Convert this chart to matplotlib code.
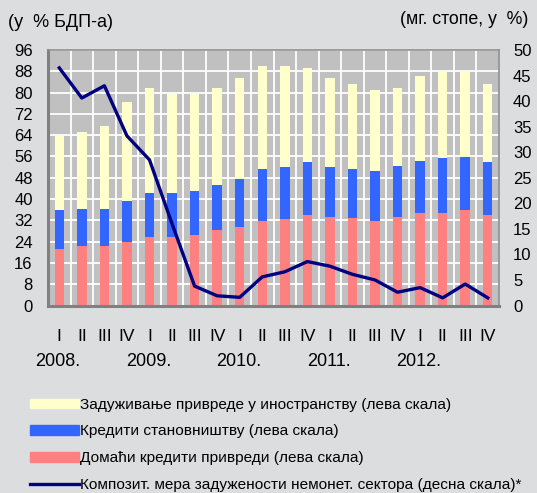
import matplotlib.pyplot as plt
import numpy as np
from matplotlib.patches import Patch
from matplotlib.lines import Line2D

plt.rcParams['font.family'] = ['Liberation Sans', 'DejaVu Sans']

# quarters 2008 Q1 .. 2012 Q4
quarters = ['I', 'II', 'III', 'IV'] * 5
years = ['2008.', '2009.', '2010.', '2011.', '2012.']

# left scale, % of GDP
domestic_corp = [21.2, 22.4, 22.4, 23.9, 25.7, 25.7, 26.5, 28.4, 29.5, 31.8,
                 32.5, 34.0, 33.3, 32.9, 31.8, 33.3, 34.8, 34.8, 35.9, 34.0]
households = [14.7, 13.9, 13.9, 15.4, 16.6, 16.6, 16.5, 16.9, 18.0, 19.5,
              19.5, 19.9, 18.7, 18.4, 18.7, 19.1, 19.5, 20.6, 19.9, 19.9]
foreign_borrowing = [27.8, 28.9, 31.2, 37.2, 39.4, 37.2, 36.5, 36.4, 38.0, 38.7,
                     38.0, 35.4, 33.5, 31.9, 30.5, 29.3, 31.9, 32.3, 31.9, 29.3]

# right scale, y-o-y %
composite = [46.5, 40.6, 43.0, 33.2, 28.5, 16.0, 3.8, 1.9, 1.6, 5.6,
             6.6, 8.6, 7.7, 6.1, 5.0, 2.6, 3.5, 1.5, 4.2, 1.5]

c_red = '#FF8080'
c_blue = '#3366FF'
c_yellow = '#FFFFCC'
c_line = '#000080'
bg = '#DCDDDE'

fig = plt.figure(figsize=(5.37, 4.93), dpi=100, facecolor=bg)
ax = fig.add_axes([0.0894, 0.3803, 0.8399, 0.5183])
ax.set_facecolor('#C0C0C0')

x = np.arange(len(quarters))
w = 0.42
b1 = np.array(domestic_corp)
b2 = b1 + np.array(households)
ax.bar(x, domestic_corp, w, color=c_red, zorder=2)
ax.bar(x, households, w, bottom=b1, color=c_blue, zorder=2)
ax.bar(x, foreign_borrowing, w, bottom=b2, color=c_yellow, zorder=2)

ax.set_xlim(-0.5, len(x) - 0.5)
ax.set_ylim(0, 96)
ax.set_yticks(np.arange(0, 97, 8))
ax.set_xticks(x)
ax.set_xticklabels(quarters, fontsize=12.5)
ax.set_xticks(np.arange(0.5, len(x) - 1, 1), minor=True)
ax.tick_params(axis='x', which='both', length=0, pad=17)
ax.tick_params(axis='y', length=0, pad=11, labelsize=12)
ax.set_axisbelow(True)
ax.grid(axis='y', color='white', lw=1.3)
ax.grid(axis='x', which='minor', color='white', lw=1.3)
for s in ['left', 'bottom']:
    ax.spines[s].set_color('#808080')
    ax.spines[s].set_linewidth(2.2)
for s in ['top', 'right']:
    ax.spines[s].set_color('#909090')
    ax.spines[s].set_linewidth(1.2)

for i, yr in enumerate(years):
    ax.text(i * 4 - 0.05, -0.218, yr, transform=ax.get_xaxis_transform(),
            ha='center', va='center', fontsize=13)

ax2 = ax.twinx()
ax2.plot(x, composite, color=c_line, lw=2.4, solid_joinstyle='round', zorder=5)
ax2.set_ylim(0, 50)
ax2.set_yticks(np.arange(0, 51, 5))
ax2.tick_params(axis='y', length=0, pad=10, labelsize=12)
for s in ax2.spines.values():
    s.set_visible(False)

fig.text(0.015, 0.955, '(у  % БДП-а)', fontsize=13, ha='left', va='center')
fig.text(0.984, 0.960, '(мг. стопе, у  %)', fontsize=12.8, ha='right', va='center')

handles = [Patch(color=c_yellow), Patch(color=c_blue), Patch(color=c_red),
           Line2D([], [], color=c_line, lw=2.4)]
labels = ['Задуживање привреде у иностранству (лева скала)',
          'Кредити становништву (лева скала)',
          'Домаћи кредити привреди (лева скала)',
          'Композит. мера задужености немонет. сектора (десна скала)*']
fig.legend(handles, labels, loc='upper left', bbox_to_anchor=(0.056, 0.193),
           frameon=False, fontsize=11.1, handlelength=3.2, handleheight=0.6,
           handletextpad=0.05, labelspacing=0.82, borderaxespad=0, borderpad=0)

fig.savefig('out.png', dpi=100, facecolor=bg)
